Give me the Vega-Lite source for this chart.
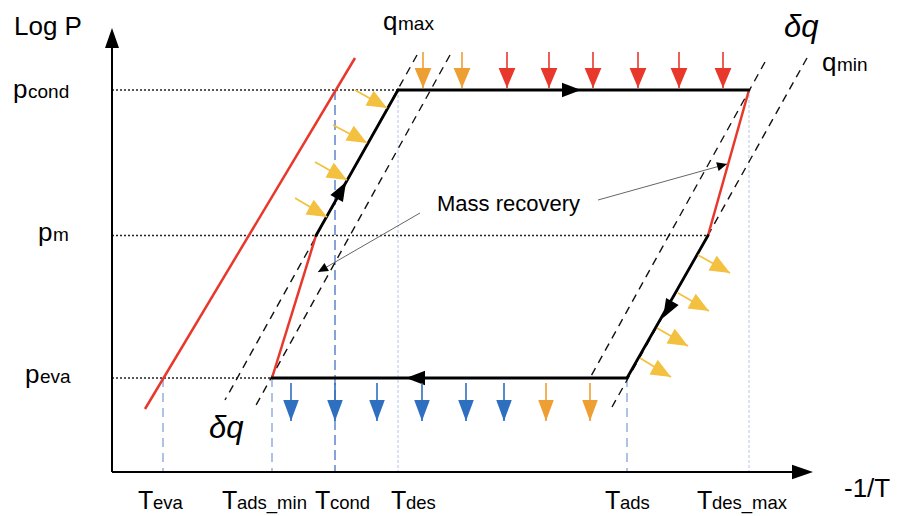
{
  "$schema": "https://vega.github.io/schema/vega-lite/v6.json",
  "width": 902,
  "height": 516,
  "autosize": {"type": "none"},
  "padding": 0,
  "background": "white",
  "config": {"view": {"stroke": null}},
  "datasets": {
    "pressureLevels": [
      {"level": "p_cond", "x": 112, "y": 90, "x2": 398, "y2": 90},
      {"level": "p_m", "x": 112, "y": 235.5, "x2": 708, "y2": 235.5},
      {"level": "p_eva", "x": 112, "y": 378, "x2": 272, "y2": 378}
    ],
    "tempLines": [
      {"T": "T_eva", "x": 163, "y": 378, "x2": 163, "y2": 472},
      {"T": "T_ads_min", "x": 272, "y": 378, "x2": 272, "y2": 472},
      {"T": "T_ads", "x": 627, "y": 378, "x2": 627, "y2": 472}
    ],
    "condLine": [
      {"T": "T_cond", "x": 335, "y": 90, "x2": 335, "y2": 472}
    ],
    "desLines": [
      {"T": "T_des", "x": 398, "y": 90, "x2": 398, "y2": 472},
      {"T": "T_des_max", "x": 749, "y": 90, "x2": 749, "y2": 472}
    ],
    "isosteres": [
      {"x": 417, "y": 55, "x2": 225, "y2": 400},
      {"x": 450, "y": 55, "x2": 255, "y2": 407},
      {"x": 765, "y": 62, "x2": 590, "y2": 378},
      {"x": 807, "y": 58, "x2": 612, "y2": 407}
    ],
    "redLines": [
      {"x": 145, "y": 409, "x2": 355, "y2": 58},
      {"x": 749, "y": 90, "x2": 708, "y2": 235.5},
      {"x": 272, "y": 378, "x2": 316, "y2": 235.5}
    ],
    "cycle": [
      {"x": 316, "y": 235.5, "x2": 398, "y2": 90},
      {"x": 398, "y": 90, "x2": 749, "y2": 90},
      {"x": 708, "y": 235.5, "x2": 627, "y2": 378},
      {"x": 627, "y": 378, "x2": 272, "y2": 378}
    ],
    "flowMarks": [
      {"dir": "up", "x": 346, "y": 182},
      {"dir": "right", "x": 581, "y": 90},
      {"dir": "down", "x": 663, "y": 318},
      {"dir": "left", "x": 406, "y": 378}
    ],
    "axes": [
      {"x": 112, "y": 472, "x2": 112, "y2": 44},
      {"x": 112, "y": 472, "x2": 798, "y2": 472}
    ],
    "axisHeads": [
      {"axis": "P", "x": 112, "y": 28},
      {"axis": "T", "x": 813, "y": 472}
    ],
    "topArrows": [
      {"flow": "sensible", "x": 423, "y": 52, "x2": 423, "y2": 88},
      {"flow": "sensible", "x": 462, "y": 52, "x2": 462, "y2": 88},
      {"flow": "desorption", "x": 507, "y": 52, "x2": 507, "y2": 88},
      {"flow": "desorption", "x": 549, "y": 52, "x2": 549, "y2": 88},
      {"flow": "desorption", "x": 593, "y": 52, "x2": 593, "y2": 88},
      {"flow": "desorption", "x": 638, "y": 52, "x2": 638, "y2": 88},
      {"flow": "desorption", "x": 679, "y": 52, "x2": 679, "y2": 88},
      {"flow": "desorption", "x": 723, "y": 52, "x2": 723, "y2": 88}
    ],
    "bottomArrows": [
      {"flow": "adsorption", "x": 291, "y": 383, "x2": 291, "y2": 421},
      {"flow": "adsorption", "x": 335, "y": 383, "x2": 335, "y2": 421},
      {"flow": "adsorption", "x": 377, "y": 383, "x2": 377, "y2": 421},
      {"flow": "adsorption", "x": 422, "y": 383, "x2": 422, "y2": 421},
      {"flow": "adsorption", "x": 466, "y": 383, "x2": 466, "y2": 421},
      {"flow": "adsorption", "x": 504, "y": 383, "x2": 504, "y2": 421},
      {"flow": "sensible", "x": 546, "y": 383, "x2": 546, "y2": 421},
      {"flow": "sensible", "x": 590, "y": 383, "x2": 590, "y2": 421}
    ],
    "yellowArrows": [
      {"x": 355, "y": 90, "x2": 387, "y2": 108},
      {"x": 333, "y": 125, "x2": 367, "y2": 143},
      {"x": 315, "y": 162, "x2": 347, "y2": 180},
      {"x": 295, "y": 198, "x2": 327, "y2": 217},
      {"x": 698, "y": 255, "x2": 730, "y2": 273},
      {"x": 678, "y": 293, "x2": 709, "y2": 311},
      {"x": 657, "y": 328, "x2": 688, "y2": 346},
      {"x": 640, "y": 358, "x2": 671, "y2": 377}
    ],
    "leaders": [
      {"to": "desorber", "x": 598, "y": 200, "x2": 727, "y2": 164},
      {"to": "adsorber", "x": 420, "y": 213, "x2": 318, "y2": 272}
    ],
    "symbols": [
      {"x": 13, "y": 98, "main": "p", "sub": "cond"},
      {"x": 38, "y": 241, "main": "p", "sub": "m"},
      {"x": 25, "y": 383, "main": "p", "sub": "eva"},
      {"x": 383, "y": 30, "main": "q", "sub": "max"},
      {"x": 822, "y": 71, "main": "q", "sub": "min"}
    ],
    "tLabels": [
      {"x": 138, "y": 509, "main": "T", "sub": "eva"},
      {"x": 222, "y": 509, "main": "T", "sub": "ads_min"},
      {"x": 315, "y": 509, "main": "T", "sub": "cond"},
      {"x": 391, "y": 509, "main": "T", "sub": "des"},
      {"x": 605, "y": 509, "main": "T", "sub": "ads"},
      {"x": 697, "y": 509, "main": "T", "sub": "des_max"}
    ],
    "titles": [
      {"x": 14, "y": 35, "text": "Log P"},
      {"x": 844, "y": 497, "text": "-1/T"}
    ],
    "deltas": [
      {"x": 784, "y": 37, "text": "δq"},
      {"x": 209, "y": 438, "text": "δq"}
    ],
    "note": [
      {"x": 437, "y": 211, "text": "Mass recovery"}
    ]
  },
  "encoding": {
    "x": {"field": "x", "type": "quantitative", "scale": {"domain": [0, 902], "nice": false, "zero": false}, "axis": null},
    "y": {"field": "y", "type": "quantitative", "scale": {"domain": [0, 516], "nice": false, "zero": false, "reverse": true}, "axis": null}
  },
  "layer": [
    {
      "data": {"name": "desLines"},
      "mark": {"type": "rule", "color": "#A9C0E8", "strokeWidth": 0.9, "strokeDash": [3, 2]},
      "encoding": {"x2": {"field": "x2"}, "y2": {"field": "y2"}}
    },
    {
      "data": {"name": "tempLines"},
      "mark": {"type": "rule", "color": "#8EA9DB", "strokeWidth": 1.4, "strokeDash": [9, 6]},
      "encoding": {"x2": {"field": "x2"}, "y2": {"field": "y2"}}
    },
    {
      "data": {"name": "condLine"},
      "mark": {"type": "rule", "color": "#7F9FD8", "strokeWidth": 1.9, "strokeDash": [10, 5]},
      "encoding": {"x2": {"field": "x2"}, "y2": {"field": "y2"}}
    },
    {
      "data": {"name": "pressureLevels"},
      "mark": {"type": "rule", "color": "#222222", "strokeWidth": 1.3, "strokeDash": [2, 2]},
      "encoding": {"x2": {"field": "x2"}, "y2": {"field": "y2"}}
    },
    {
      "data": {"name": "isosteres"},
      "mark": {"type": "rule", "color": "#111111", "strokeWidth": 1.4, "strokeDash": [8, 6]},
      "encoding": {"x2": {"field": "x2"}, "y2": {"field": "y2"}}
    },
    {
      "data": {"name": "redLines"},
      "mark": {"type": "rule", "color": "#E8382B", "strokeWidth": 2.5},
      "encoding": {"x2": {"field": "x2"}, "y2": {"field": "y2"}}
    },
    {
      "data": {"name": "cycle"},
      "mark": {"type": "rule", "color": "#000000", "strokeWidth": 2.8, "strokeCap": "round"},
      "encoding": {"x2": {"field": "x2"}, "y2": {"field": "y2"}}
    },
    {
      "data": {"name": "axes"},
      "mark": {"type": "rule", "color": "#000000", "strokeWidth": 2},
      "encoding": {"x2": {"field": "x2"}, "y2": {"field": "y2"}}
    },
    {
      "data": {"name": "axisHeads"},
      "transform": [{"filter": "datum.axis === 'P'"}],
      "mark": {"type": "point", "shape": "M0,0 L-0.35,1 L0.35,1 Z", "size": 1600, "angle": 0, "filled": true, "fill": "#000000", "strokeWidth": 0, "opacity": 1}
    },
    {
      "data": {"name": "axisHeads"},
      "transform": [{"filter": "datum.axis === 'T'"}],
      "mark": {"type": "point", "shape": "M0,0 L-0.35,1 L0.35,1 Z", "size": 1764, "angle": 90, "filled": true, "fill": "#000000", "strokeWidth": 0, "opacity": 1}
    },
    {
      "data": {"name": "flowMarks"},
      "transform": [{"filter": "datum.dir === 'up'"}],
      "mark": {"type": "point", "shape": "M0,0 L-0.38,1 L0.38,1 Z", "size": 1444, "angle": 29.5, "filled": true, "fill": "#000000", "strokeWidth": 0, "opacity": 1}
    },
    {
      "data": {"name": "flowMarks"},
      "transform": [{"filter": "datum.dir === 'right'"}],
      "mark": {"type": "point", "shape": "M0,0 L-0.38,1 L0.38,1 Z", "size": 1444, "angle": 90, "filled": true, "fill": "#000000", "strokeWidth": 0, "opacity": 1}
    },
    {
      "data": {"name": "flowMarks"},
      "transform": [{"filter": "datum.dir === 'down'"}],
      "mark": {"type": "point", "shape": "M0,0 L-0.38,1 L0.38,1 Z", "size": 1444, "angle": 209.5, "filled": true, "fill": "#000000", "strokeWidth": 0, "opacity": 1}
    },
    {
      "data": {"name": "flowMarks"},
      "transform": [{"filter": "datum.dir === 'left'"}],
      "mark": {"type": "point", "shape": "M0,0 L-0.38,1 L0.38,1 Z", "size": 1444, "angle": 270, "filled": true, "fill": "#000000", "strokeWidth": 0, "opacity": 1}
    },
    {
      "data": {"name": "topArrows"},
      "mark": {"type": "rule", "strokeWidth": 1.6},
      "encoding": {
        "x2": {"field": "x2"}, "y2": {"field": "y2"},
        "color": {"field": "flow", "type": "nominal", "scale": {"domain": ["sensible", "desorption", "adsorption"], "range": ["#EE9F33", "#E8382B", "#2E6FBF"]}, "legend": null}
      }
    },
    {
      "data": {"name": "topArrows"},
      "mark": {"type": "point", "shape": "M0,0 L-0.42,1 L0.42,1 Z", "size": 1600, "angle": 180, "filled": true, "strokeWidth": 0, "opacity": 1},
      "encoding": {
        "x": {"field": "x2", "type": "quantitative", "scale": {"domain": [0, 902], "nice": false, "zero": false}, "axis": null},
        "y": {"field": "y2", "type": "quantitative", "scale": {"domain": [0, 516], "nice": false, "zero": false, "reverse": true}, "axis": null},
        "color": {"field": "flow", "type": "nominal", "scale": {"domain": ["sensible", "desorption", "adsorption"], "range": ["#EE9F33", "#E8382B", "#2E6FBF"]}, "legend": null}
      }
    },
    {
      "data": {"name": "bottomArrows"},
      "mark": {"type": "rule", "strokeWidth": 1.6},
      "encoding": {
        "x2": {"field": "x2"}, "y2": {"field": "y2"},
        "color": {"field": "flow", "type": "nominal", "scale": {"domain": ["sensible", "desorption", "adsorption"], "range": ["#EE9F33", "#E8382B", "#2E6FBF"]}, "legend": null}
      }
    },
    {
      "data": {"name": "bottomArrows"},
      "mark": {"type": "point", "shape": "M0,0 L-0.37,1 L0.37,1 Z", "size": 1764, "angle": 180, "filled": true, "strokeWidth": 0, "opacity": 1},
      "encoding": {
        "x": {"field": "x2", "type": "quantitative", "scale": {"domain": [0, 902], "nice": false, "zero": false}, "axis": null},
        "y": {"field": "y2", "type": "quantitative", "scale": {"domain": [0, 516], "nice": false, "zero": false, "reverse": true}, "axis": null},
        "color": {"field": "flow", "type": "nominal", "scale": {"domain": ["sensible", "desorption", "adsorption"], "range": ["#EE9F33", "#E8382B", "#2E6FBF"]}, "legend": null}
      }
    },
    {
      "data": {"name": "yellowArrows"},
      "mark": {"type": "rule", "color": "#F3C13F", "strokeWidth": 1.8},
      "encoding": {"x2": {"field": "x2"}, "y2": {"field": "y2"}}
    },
    {
      "data": {"name": "yellowArrows"},
      "mark": {"type": "point", "shape": "M0,0 L-0.42,1 L0.42,1 Z", "size": 1600, "angle": 119.5, "filled": true, "fill": "#F3C13F", "strokeWidth": 0, "opacity": 1},
      "encoding": {
        "x": {"field": "x2", "type": "quantitative", "scale": {"domain": [0, 902], "nice": false, "zero": false}, "axis": null},
        "y": {"field": "y2", "type": "quantitative", "scale": {"domain": [0, 516], "nice": false, "zero": false, "reverse": true}, "axis": null}
      }
    },
    {
      "data": {"name": "leaders"},
      "mark": {"type": "rule", "color": "#555555", "strokeWidth": 0.9},
      "encoding": {"x2": {"field": "x2"}, "y2": {"field": "y2"}}
    },
    {
      "data": {"name": "leaders"},
      "transform": [{"filter": "datum.to === 'desorber'"}],
      "mark": {"type": "point", "shape": "M0,0 L-0.45,1 L0.45,1 Z", "size": 400, "angle": 74.4, "filled": true, "fill": "#000000", "strokeWidth": 0, "opacity": 1},
      "encoding": {
        "x": {"field": "x2", "type": "quantitative", "scale": {"domain": [0, 902], "nice": false, "zero": false}, "axis": null},
        "y": {"field": "y2", "type": "quantitative", "scale": {"domain": [0, 516], "nice": false, "zero": false, "reverse": true}, "axis": null}
      }
    },
    {
      "data": {"name": "leaders"},
      "transform": [{"filter": "datum.to === 'adsorber'"}],
      "mark": {"type": "point", "shape": "M0,0 L-0.45,1 L0.45,1 Z", "size": 400, "angle": 240, "filled": true, "fill": "#000000", "strokeWidth": 0, "opacity": 1},
      "encoding": {
        "x": {"field": "x2", "type": "quantitative", "scale": {"domain": [0, 902], "nice": false, "zero": false}, "axis": null},
        "y": {"field": "y2", "type": "quantitative", "scale": {"domain": [0, 516], "nice": false, "zero": false, "reverse": true}, "axis": null}
      }
    },
    {
      "data": {"name": "symbols"},
      "mark": {"type": "text", "font": "Liberation Sans", "fontSize": 26, "align": "left", "baseline": "alphabetic", "color": "#000000"},
      "encoding": {"text": {"field": "main"}}
    },
    {
      "data": {"name": "symbols"},
      "mark": {"type": "text", "font": "Liberation Sans", "fontSize": 19, "align": "left", "baseline": "alphabetic", "dx": 15, "color": "#000000"},
      "encoding": {"text": {"field": "sub"}}
    },
    {
      "data": {"name": "tLabels"},
      "mark": {"type": "text", "font": "Liberation Sans", "fontSize": 25, "align": "left", "baseline": "alphabetic", "color": "#000000"},
      "encoding": {"text": {"field": "main"}}
    },
    {
      "data": {"name": "tLabels"},
      "mark": {"type": "text", "font": "Liberation Sans", "fontSize": 18.5, "align": "left", "baseline": "alphabetic", "dx": 15, "color": "#000000"},
      "encoding": {"text": {"field": "sub"}}
    },
    {
      "data": {"name": "titles"},
      "mark": {"type": "text", "font": "Liberation Sans", "fontSize": 26, "align": "left", "baseline": "alphabetic", "color": "#000000"},
      "encoding": {"text": {"field": "text"}}
    },
    {
      "data": {"name": "deltas"},
      "mark": {"type": "text", "font": "Liberation Sans", "fontSize": 31, "fontStyle": "italic", "align": "left", "baseline": "alphabetic", "color": "#000000"},
      "encoding": {"text": {"field": "text"}}
    },
    {
      "data": {"name": "note"},
      "mark": {"type": "text", "font": "Liberation Sans", "fontSize": 22, "align": "left", "baseline": "alphabetic", "color": "#000000"},
      "encoding": {"text": {"field": "text"}}
    }
  ]
}
